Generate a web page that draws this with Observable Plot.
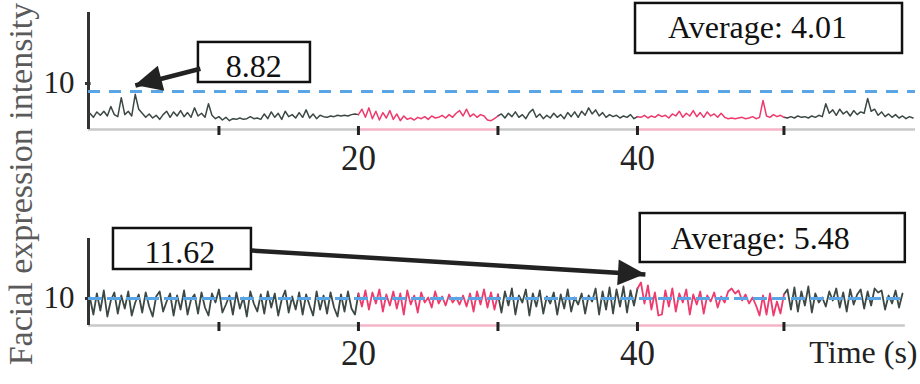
<!DOCTYPE html>
<html><head><meta charset="utf-8">
<script src="https://cdn.jsdelivr.net/npm/d3@7"></script>
<script src="https://cdn.jsdelivr.net/npm/@observablehq/plot@0.6"></script>
<style>
body{margin:0;background:#fff;}
#chart{position:relative;width:920px;height:384px;overflow:hidden;}
#chart svg text{font-family:"Liberation Serif","Times New Roman",Times,"Nimbus Roman",FreeSerif,Tinos,"Noto Serif","DejaVu Serif",Georgia,serif;}
</style></head><body><div id="chart"></div>
<script>
// ---- data ----
const T0 = 0.75, STEP = 0.25;            // sampling grid of the recordings (s)
const xDomain = [0.65, 59.93];
const phaseBounds = [20, 30, 40, 50.5];  // gray / pink phases
const xTicks = [10, 20, 30, 40, 50.5];
const xTickLabels = [20, 40];
const yTicks = [10];
const topRef = 8.82, bottomRef = 10.0;
const topYDomain = [3.2, 20.5], bottomYDomain = [7.3, 16.0];

const topValues = [5.6,5.0,5.8,5.3,5.9,5.2,6.6,5.4,5.1,7.9,
 5.4,5.9,5.2,8.4,6.2,5.6,5.0,5.5,4.9,5.3,
 4.7,5.4,5.9,5.0,5.8,5.2,6.0,5.1,5.7,5.0,
 6.4,5.2,5.6,5.0,7.0,5.3,4.8,5.1,4.6,5.0,
 4.5,4.8,4.7,4.9,4.7,4.8,5.1,4.8,4.9,4.7,
 5.5,4.8,5.8,5.0,5.6,4.7,5.9,5.1,5.4,4.9,
 5.7,5.0,6.1,4.9,5.5,4.8,5.3,5.1,5.0,5.2,
 5.1,5.3,5.2,5.3,5.2,5.4,5.5,5.4,6.2,5.0,
 6.4,4.8,5.9,4.6,5.7,4.9,6.0,4.7,5.5,4.5,
 5.2,4.7,4.9,4.6,5.0,4.8,5.1,4.7,5.2,4.9,
 5.0,5.3,4.9,5.4,5.0,5.6,6.0,5.2,6.2,5.1,
 5.5,5.0,5.4,5.2,4.6,4.5,4.8,5.2,5.5,4.9,
 5.6,5.1,5.8,5.0,5.4,4.8,5.7,6.2,5.0,5.5,
 4.8,5.3,4.9,5.6,5.0,5.4,4.8,5.7,5.1,5.8,
 5.0,5.9,5.3,6.4,5.5,6.1,5.2,5.7,5.0,5.4,
 5.1,5.3,4.9,5.2,5.0,5.4,4.8,5.1,5.0,5.3,
 4.9,5.2,5.0,5.4,5.1,5.3,4.9,5.5,5.2,5.9,
 5.0,5.6,5.2,6.0,5.1,5.7,5.0,5.8,5.2,5.5,
 5.0,5.6,5.0,4.8,4.9,4.8,4.9,5.0,4.8,4.9,
 5.1,4.8,5.0,7.5,5.2,5.0,5.4,5.1,5.3,5.0,
 4.9,5.1,4.9,5.2,5.0,5.1,4.9,5.2,5.0,5.3,
 5.1,7.0,5.6,6.1,5.3,6.2,5.5,5.9,5.2,6.0,
 5.4,5.8,5.6,7.8,5.9,6.2,5.3,5.8,5.1,5.5,
 5.0,5.4,4.9,5.2,4.8,5.1,4.9];

const bottomValues = [10.1,8.4,10.5,8.8,10.8,8.2,9.8,10.6,8.5,10.3,
 9.0,10.7,8.3,9.6,10.4,8.6,10.6,9.2,8.2,10.2,
 10.7,8.7,9.7,10.5,8.3,10.3,8.9,10.8,8.4,9.9,
 10.4,8.5,10.6,9.1,8.3,10.5,9.6,10.9,8.6,9.4,
 10.3,8.4,10.6,9.0,10.1,8.2,10.7,9.5,8.7,10.4,
 8.5,10.7,9.1,10.5,8.3,9.9,10.8,8.6,10.2,8.9,
 10.6,8.4,10.4,9.3,8.3,10.7,8.9,10.3,8.5,10.6,
 9.1,8.2,10.4,8.7,10.7,9.0,8.4,10.5,
 9.2,10.8,8.9,10.6,9.5,10.9,8.7,10.4,9.3,10.7,
 9.0,10.5,8.4,10.8,9.4,10.3,8.6,10.6,9.6,10.1,
 9.1,10.7,9.5,10.2,9.3,10.4,9.6,10.1,9.4,10.3,
 9.2,10.5,8.7,10.7,9.4,10.9,9.1,10.6,8.9,10.4,
 8.6,10.7,9.3,11.0,8.4,10.3,9.6,10.9,8.3,10.5,
 9.2,10.8,8.5,10.2,9.5,10.6,8.4,10.4,9.0,10.9,
 8.7,10.1,9.4,10.5,8.5,10.3,9.7,11.0,8.4,10.7,
 8.9,11.1,8.5,10.9,9.2,11.2,8.6,10.8,9.3,11.0,
 11.6,9.5,11.3,8.9,10.6,8.3,8.4,10.8,9.2,11.0,
 8.7,10.5,9.6,10.9,8.4,10.4,9.4,10.7,8.5,10.3,
 9.7,10.6,9.1,10.2,9.6,10.7,11.0,10.5,10.8,9.8,
 10.4,9.5,10.1,9.3,8.3,10.3,8.4,10.5,8.3,9.7,
 8.5,10.4,
 10.9,8.9,11.1,8.7,10.7,9.3,11.2,8.6,10.5,9.6,
 10.1,9.2,10.7,9.8,11.0,9.1,10.6,8.7,10.9,9.4,
 10.4,10.9,9.0,10.7,9.3,11.0,10.6,10.8,8.9,10.3,
 9.5,10.8,9.1,10.5];

// annotations (data coordinates: time s, intensity)
const topBoxes = [
  {label: "8.82", t1: 8.53, t2: 16.56, v1: 10.15, v2: 16.07, tx: 12.5, tv: 12.5},
  {label: "Average: 4.01", t1: 39.86, t2: 59.0, v1: 14.44, v2: 21.84, tx: 48.6, tv: 18.2}
];
const topArrows = [{t1: 8.67, v1: 12.18, t2: 4.01, v2: 9.71}];
const bottomBoxes = [
  {label: "11.62", t1: 2.44, t2: 12.33, v1: 12.9, v2: 17.0, tx: 7.2, tv: 14.6},
  {label: "Average: 5.48", t1: 40.2, t2: 59.2, v1: 13.6, v2: 18.5, tx: 48.8, tv: 16.0}
];
const bottomArrows = [{t1: 12.33, v1: 14.8, t2: 40.57, v2: 12.4}];

// ---- styles ----
const FONT = "Liberation Serif, Times New Roman, serif";
const GRAY = "#3c4843", PINK = "#ee3a6c", GRAY_AX = "#c8c8c8", PINK_AX = "#f6b4c8", BLUE = "#5aa5e6";

function rowsOf(values) {
  const rows = [];
  values.forEach((v, i) => {
    const t = T0 + i * STEP;
    const p = phaseBounds.filter(b => b < t).length;
    rows.push({t, v, phase: p});
    if (phaseBounds.includes(t)) rows.push({t, v, phase: p + 1});
  });
  return rows;
}
const isStim = p => p % 2 === 1;

function arrowHeads(list) {
  return (index, scales) => {
    const ns = "http://www.w3.org/2000/svg";
    const g = document.createElementNS(ns, "g");
    for (const a of list) {
      const X1 = scales.x(a.t1), Y1 = scales.y(a.v1), X2 = scales.x(a.t2), Y2 = scales.y(a.v2);
      const ang = Math.atan2(Y2 - Y1, X2 - X1), c = Math.cos(ang), s = Math.sin(ang);
      const L = 27, W = 13;
      const bx = X2 - L * c, by = Y2 - L * s;
      const p = document.createElementNS(ns, "polygon");
      p.setAttribute("points", `${X2},${Y2} ${bx - W * s},${by + W * c} ${bx + W * s},${by - W * c}`);
      p.setAttribute("fill", "#222");
      g.appendChild(p);
    }
    return g;
  };
}

function panel({values, yDomain, marginTop, marginBottom, ref, refEnd, refWidth, refDash, boxes, arrows, axisEnd, tickPad, lineWidth, showTime}) {
  const rows = rowsOf(values);
  const segs = d3.pairs([xDomain[0], ...phaseBounds, axisEnd]).map(([a, b], i) => ({x1: a, x2: b, phase: i}));
  const marks = [
    Plot.ruleY(segs.filter(d => !isStim(d.phase)), {y: yDomain[0], x1: "x1", x2: "x2", stroke: GRAY_AX, strokeWidth: 2.5}),
    Plot.ruleY(segs.filter(d => isStim(d.phase)), {y: yDomain[0], x1: "x1", x2: "x2", stroke: PINK_AX, strokeWidth: 2.5}),
    Plot.ruleX([xDomain[0]], {stroke: "#333", strokeWidth: 3}),
    Plot.ruleY(yTicks, {x1: xDomain[0], x2: xDomain[0] + 0.4, dx: -3, stroke: "#333", strokeWidth: 3}),
    Plot.axisY(yTicks, {tickSize: 0, tickPadding: 14, fontSize: 31, fill: "#222", label: null}),
    Plot.axisX(xTicks, {tickSize: 9, dy: -3, stroke: "#222", strokeWidth: 3, tickFormat: () => "", label: null}),
    Plot.axisX(xTickLabels, {tickSize: 0, tickPadding: tickPad, fontSize: 35, fill: "#222", label: null}),
    Plot.line(rows.filter(d => !isStim(d.phase)), {x: "t", y: "v", z: "phase", stroke: GRAY, strokeWidth: lineWidth}),
    Plot.line(rows.filter(d => isStim(d.phase)), {x: "t", y: "v", z: "phase", stroke: PINK, strokeWidth: lineWidth}),
    Plot.ruleY([ref], {x1: xDomain[0], x2: refEnd, stroke: BLUE, strokeWidth: refWidth, strokeDasharray: refDash}),
    Plot.rect(boxes, {x1: "t1", x2: "t2", y1: "v1", y2: "v2", fill: "white", stroke: "#111", strokeWidth: 2.5}),
    Plot.text(boxes, {x: "tx", y: "tv", text: "label", fontSize: 32, fill: "#111"}),
    Plot.link(arrows, {x1: "t1", y1: "v1", x2: "t2", y2: "v2", stroke: "#222", strokeWidth: 4.5}),
    arrowHeads(arrows)
  ];
  if (showTime) marks.push(Plot.text(["Time (s)"], {frameAnchor: "bottom-right", textAnchor: "end", lineAnchor: "bottom", dx: 2, dy: 37, fontSize: 32, fill: "#222"}));
  return Plot.plot({
    width: 920, height: 192,
    marginLeft: 88, marginRight: 5, marginTop, marginBottom,
    x: {domain: xDomain, label: null},
    y: {domain: yDomain, label: null},
    style: {fontFamily: FONT, background: "transparent", overflow: "visible"},
    marks
  });
}

const chart = document.getElementById("chart");
chart.appendChild(panel({values: topValues, yDomain: topYDomain, marginTop: 12, marginBottom: 63, ref: topRef, refEnd: 59.93, refWidth: 3, refDash: "12,9",
  boxes: topBoxes, arrows: topArrows, axisEnd: 59.93, tickPad: 16, lineWidth: 1.5, showTime: false}));
chart.appendChild(panel({values: bottomValues, yDomain: bottomYDomain, marginTop: 46, marginBottom: 59, ref: bottomRef, refEnd: 59.0, refWidth: 3, refDash: "14,5",
  boxes: bottomBoxes, arrows: bottomArrows, axisEnd: 59.2, tickPad: 15, lineWidth: 1.8, showTime: true}));

const lab = d3.create("svg").attr("width", 60).attr("height", 384)
  .style("position", "absolute").style("left", "0").style("top", "0");
lab.append("text").attr("transform", "translate(32,184) rotate(-90)").attr("text-anchor", "middle")
  .attr("font-size", 34).attr("fill", "#5a5a5a").text("Facial expression intensity");
chart.appendChild(lab.node());
</script></body></html>
